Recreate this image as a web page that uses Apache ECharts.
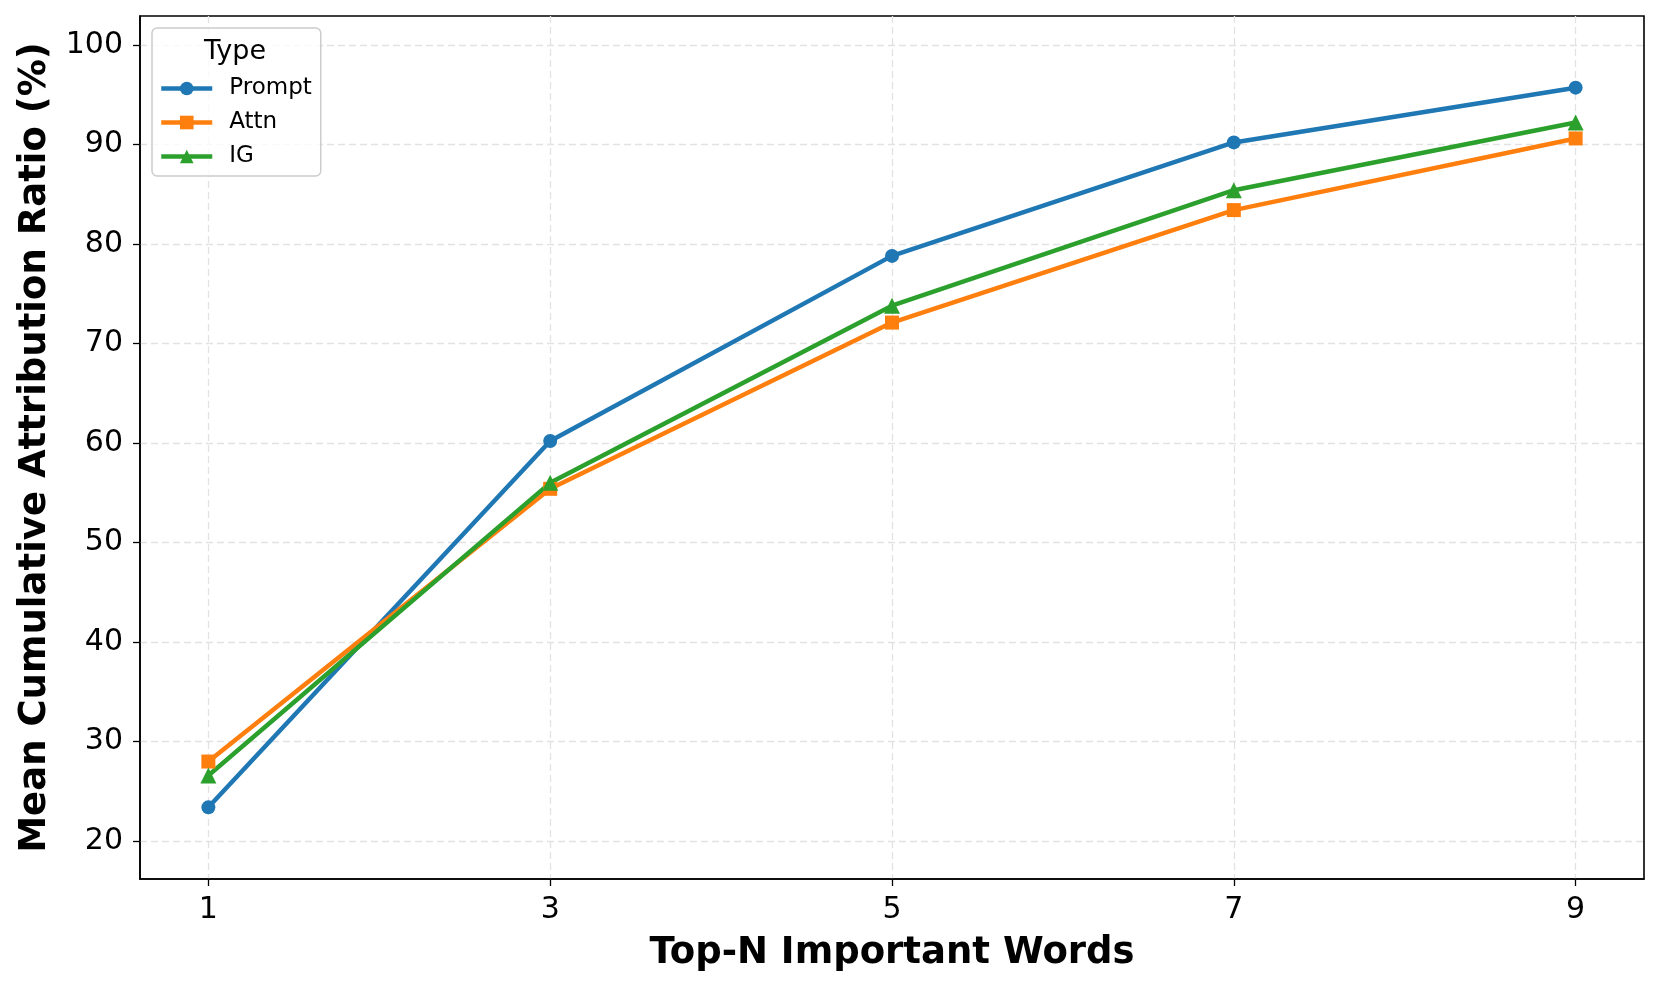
<!DOCTYPE html>
<html>
<head>
<meta charset="utf-8">
<script src="https://cdn.jsdelivr.net/npm/echarts@6/dist/echarts.min.js"></script>
<style>
  html, body { margin: 0; padding: 0; background: #fff; }
  #main { width: 1661px; height: 990px; }
</style>
</head>
<body>
<div id="main"></div>
<script>
// data
var topN = [1, 3, 5, 7, 9];
var prompt = [23.4, 60.2, 78.8, 90.2, 95.7];
var attn = [28.0, 55.4, 72.1, 83.4, 90.6];
var ig = [26.6, 56.0, 73.8, 85.4, 92.2];
var yTicks = [20, 30, 40, 50, 60, 70, 80, 90, 100];

var font = 'DejaVu Sans';

function pairs(ys) {
  return topN.map(function (x, i) { return [x, ys[i]]; });
}

function lineSeries(name, ys, color, symbol, size) {
  return {
    name: name,
    type: 'line',
    data: pairs(ys),
    symbol: symbol,
    symbolSize: size,
    showSymbol: true,
    lineStyle: { color: color, width: 4.5 },
    itemStyle: { color: color },
    emphasis: { disabled: true },
    z: 3
  };
}

var chart = echarts.init(document.getElementById('main'), null, { renderer: 'canvas' });

var gridLine = { show: true, lineStyle: { color: '#e2e2e2', width: 1.3, type: [7, 4] } };

chart.setOption({
  animation: false,
  backgroundColor: '#fff',
  textStyle: { fontFamily: font },
  grid: {
    left: 140, right: 17, top: 16, bottom: 111,
    show: true, borderColor: '#000', borderWidth: 1.6, backgroundColor: 'transparent'
  },
  title: {
    text: 'Type', left: 204, top: 38, padding: 0,
    textStyle: { fontFamily: font, fontSize: 27, fontWeight: 'normal', color: '#000' }
  },
  legend: {
    orient: 'vertical',
    left: 152, top: 28,
    padding: [49, 9, 8, 7],
    itemWidth: 51, itemHeight: 17, itemGap: 11,
    backgroundColor: 'rgba(255,255,255,0.8)',
    borderColor: '#cccccc', borderWidth: 1.5, borderRadius: 5,
    lineStyle: { width: 4.5 },
    textStyle: { fontFamily: font, fontSize: 23, color: '#000', lineHeight: 23, padding: [0, 0, 0, 12] },
    data: ['Prompt', 'Attn', 'IG']
  },
  xAxis: {
    type: 'value',
    min: 0.6, max: 9.4,
    name: 'Top-N Important Words',
    nameLocation: 'middle', nameGap: 56,
    nameTextStyle: { fontFamily: font, fontSize: 37, fontWeight: 'bold', color: '#000' },
    axisLine: { show: true, onZero: false, lineStyle: { color: '#000', width: 1.6 } },
    axisTick: { show: true, customValues: topN, length: 7, lineStyle: { color: '#000', width: 1.3 } },
    axisLabel: { customValues: topN, fontFamily: font, fontSize: 30, color: '#000', margin: 16 },
    splitLine: gridLine
  },
  yAxis: {
    type: 'value',
    min: 16.2, max: 102.9,
    name: 'Mean Cumulative Attribution Ratio (%)',
    nameLocation: 'middle', nameGap: 86, nameRotate: 90,
    nameTextStyle: { fontFamily: font, fontSize: 37, fontWeight: 'bold', color: '#000' },
    axisLine: { show: true, onZero: false, lineStyle: { color: '#000', width: 1.6 } },
    axisTick: { show: true, customValues: yTicks, length: 7, lineStyle: { color: '#000', width: 1.3 } },
    axisLabel: { customValues: yTicks, fontFamily: font, fontSize: 30, color: '#000', margin: 17 },
    splitLine: gridLine
  },
  series: [
    lineSeries('Prompt', prompt, '#1f77b4', 'circle', 14),
    lineSeries('Attn', attn, '#ff7f0e', 'rect', 14),
    lineSeries('IG', ig, '#2ca02c', 'triangle', 16)
  ]
});

window.onresize = chart.resize;
</script>
</body>
</html>
